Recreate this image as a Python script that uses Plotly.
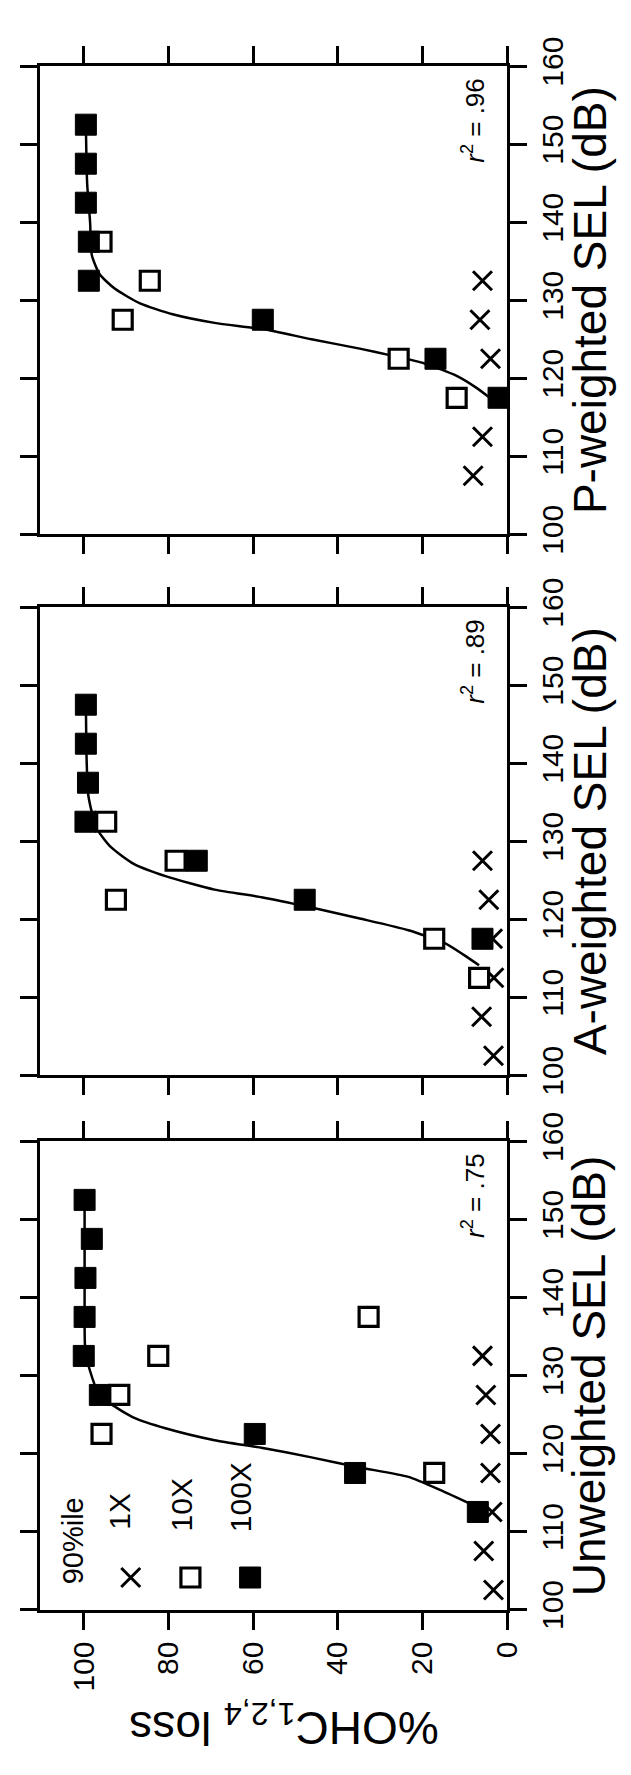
import plotly.graph_objects as go

# ---------------- data (SEL in dB, %OHC loss) ----------------
# Unweighted panel
u_x1_sel = [102.5, 107.5, 112.5, 117.5, 122.5, 127.5, 132.5]
u_x1_pct = [3.2, 5.5, 3.5, 3.9, 3.9, 5.0, 5.8]
u_x10_sel = [117.5, 122.5, 127.5, 132.5, 137.5]
u_x10_pct = [17.2, 95.8, 91.6, 82.4, 32.7]
u_x100_sel = [112.5, 117.5, 122.5, 127.5, 132.5, 137.5, 142.5, 147.5, 152.5]
u_x100_pct = [6.9, 35.9, 59.6, 96.2, 100.0, 99.8, 99.6, 98.1, 99.8]
u_fit_sel = [113.5, 115.3, 117.0, 118.2, 119.5, 120.7, 121.7, 123.2, 124.6, 126.3, 127.8, 131.3, 133.8, 140.0, 152.5]
u_fit_pct = [8.5, 15.7, 23.3, 34.8, 46.2, 57.7, 69.1, 80.5, 88.2, 93.5, 96.6, 98.9, 99.7, 99.8, 99.8]

# A-weighted panel
a_x1_sel = [102.5, 107.5, 112.5, 117.5, 122.5, 127.5]
a_x1_pct = [3.2, 6.0, 3.1, 3.4, 4.3, 5.8]
a_x10_sel = [112.5, 117.5, 122.5, 127.5, 132.5]
a_x10_pct = [6.6, 17.2, 92.4, 78.3, 94.7]
a_x100_sel = [117.5, 122.5, 127.5, 132.5, 137.5, 142.5, 147.5]
a_x100_pct = [5.8, 47.8, 73.3, 99.6, 99.0, 99.5, 99.5]
a_fit_sel = [114.1, 115.5, 117.0, 118.6, 120.1, 121.5, 122.8, 123.8, 125.5, 127.1, 129.2, 131.7, 135.8, 140.0, 147.5]
a_fit_pct = [6.6, 10.4, 14.9, 23.3, 34.8, 46.2, 57.7, 69.1, 80.5, 88.2, 93.5, 97.0, 98.9, 99.3, 99.5]

# P-weighted panel
p_x1_sel = [107.5, 112.5, 122.5, 127.5, 132.5]
p_x1_pct = [8.0, 5.8, 3.9, 6.4, 5.8]
p_x10_sel = [117.5, 122.5, 127.5, 132.5, 137.5]
p_x10_pct = [11.9, 25.6, 90.8, 84.4, 95.8]
p_x100_sel = [117.5, 122.5, 127.5, 132.5, 137.5, 142.5, 147.5, 152.5]
p_x100_pct = [2.0, 16.9, 57.7, 98.8, 98.8, 99.5, 99.5, 99.5]
p_fit_sel = [117.6, 118.8, 120.3, 121.9, 122.9, 123.8, 125.0, 126.3, 127.1, 128.2, 129.6, 131.5, 133.3, 135.8, 140.0, 145.0, 152.5]
p_fit_pct = [4.3, 7.3, 11.9, 19.5, 27.2, 34.8, 46.2, 57.7, 69.1, 79.0, 86.7, 92.7, 96.2, 98.1, 98.5, 99.2, 99.5]

panel_titles = ["Unweighted SEL (dB)", "A-weighted SEL (dB)", "P-weighted SEL (dB)"]
r2_labels = [".75", ".89", ".96"]
legend_labels = ["1X", "10X", "100X"]
legend_header = "90%ile"
pct_ticks = [0, 20, 40, 60, 80, 100]
sel_ticks = [100, 110, 120, 130, 140, 150, 160]

# ---------------- layout constants ----------------
W, H = 631, 1775
FONT = "Liberation Sans, Arial, Helvetica, sans-serif"
X_DOM = [33 / W, 512 / W]
Y_DOMS = [
    [1 - 1618 / H, 1 - 1136 / H],
    [1 - 1068 / H, 1 - 586 / H],
    [1 - 511 / H, 1 - 29 / H],
]

panels = [
    (u_x1_sel, u_x1_pct, u_x10_sel, u_x10_pct, u_x100_sel, u_x100_pct, u_fit_sel, u_fit_pct),
    (a_x1_sel, a_x1_pct, a_x10_sel, a_x10_pct, a_x100_sel, a_x100_pct, a_fit_sel, a_fit_pct),
    (p_x1_sel, p_x1_pct, p_x10_sel, p_x10_pct, p_x100_sel, p_x100_pct, p_fit_sel, p_fit_pct),
]

X_MARK = dict(symbol="x-thin", size=19, color="black", line=dict(width=3, color="black"))
OPEN_MARK = dict(symbol="square", size=19, color="white", line=dict(width=3.2, color="black"))
FILL_MARK = dict(symbol="square", size=21, color="black", line=dict(width=1, color="black"))

fig = go.Figure()
annotations = []

for i, (x1s, x1p, x10s, x10p, x100s, x100p, fs, fp) in enumerate(panels):
    suffix = "" if i == 0 else str(i + 1)
    xa, ya = "x" + suffix, "y" + suffix
    fig.add_trace(go.Scatter(x=fp, y=fs, mode="lines", line=dict(color="black", width=2.5, shape="spline", smoothing=0.6),
                             xaxis=xa, yaxis=ya, showlegend=False, hoverinfo="skip"))
    fig.add_trace(go.Scatter(x=x1p, y=x1s, mode="markers", marker=X_MARK, xaxis=xa, yaxis=ya, showlegend=False))
    fig.add_trace(go.Scatter(x=x10p, y=x10s, mode="markers", marker=OPEN_MARK, xaxis=xa, yaxis=ya, showlegend=False))
    fig.add_trace(go.Scatter(x=x100p, y=x100s, mode="markers", marker=FILL_MARK, xaxis=xa, yaxis=ya, showlegend=False))

    common = dict(showline=True, linewidth=3, linecolor="black", mirror="ticks", ticks="outside",
                  ticklen=17, tickwidth=3, tickcolor="black", showgrid=False, zeroline=False,
                  tickfont=dict(family=FONT, size=30, color="black"))
    fig.layout["xaxis" + suffix] = dict(
        domain=X_DOM, anchor=ya, range=[110.3, 0], tickvals=pct_ticks,
        tickangle=-90, showticklabels=(i == 0), **common)
    fig.layout["yaxis" + suffix] = dict(
        domain=Y_DOMS[i], anchor=xa, range=[100, 160], tickvals=sel_ticks, side="right",
        tickangle=-90, **common)

    # panel title (rotated)
    annotations.append(dict(text=panel_titles[i], xref="paper", yref="paper", x=597 / W,
                            y=(Y_DOMS[i][0] + Y_DOMS[i][1]) / 2, textangle=-90, showarrow=False,
                            xanchor="center", yanchor="middle",
                            font=dict(family=FONT, size=46, color="black")))
    # r^2 label
    annotations.append(dict(text="<i>r</i><sup>2</sup> = " + r2_labels[i], xref=xa, yref=ya,
                            x=7.8, y=153, textangle=-90, showarrow=False,
                            xanchor="center", yanchor="middle",
                            font=dict(family=FONT, size=26, color="black")))

# legend (inside the unweighted panel)
leg_pct = [88.9, 74.8, 60.7]
leg_sel = [104.1, 104.1, 104.1]
for p, s, mk in zip(leg_pct, leg_sel, [X_MARK, OPEN_MARK, FILL_MARK]):
    fig.add_trace(go.Scatter(x=[p], y=[s], mode="markers", marker=mk, xaxis="x", yaxis="y", showlegend=False))
leg_text_pct = [91.5, 77.0, 63.0]
leg_text_sel = [110.0, 109.7, 109.7]
annotations.append(dict(text=legend_header, xref="x", yref="y", x=102.6, y=103.0, textangle=-90,
                        showarrow=False, xanchor="center", yanchor="bottom",
                        font=dict(family=FONT, size=29, color="black")))
for t, p, s in zip(legend_labels, leg_text_pct, leg_text_sel):
    annotations.append(dict(text=t, xref="x", yref="y", x=p, y=s, textangle=-90,
                            showarrow=False, xanchor="center", yanchor="bottom",
                            font=dict(family=FONT, size=30, color="black")))

# y-axis title (upside down)
annotations.append(dict(text="%OHC<sub>1,2,4</sub> loss", xref="paper", yref="paper",
                        x=283 / W, y=1 - 1737 / H, textangle=180, showarrow=False,
                        xanchor="center", yanchor="middle",
                        font=dict(family=FONT, size=46, color="black")))

fig.update_layout(width=W, height=H, margin=dict(l=0, r=0, t=0, b=0),
                  paper_bgcolor="white", plot_bgcolor="white", annotations=annotations,
                  showlegend=False)

fig.write_html("out.html")
